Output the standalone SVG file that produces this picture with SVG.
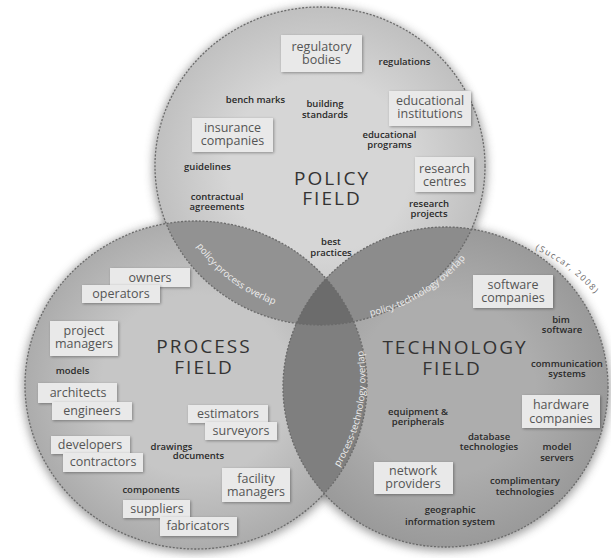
<svg xmlns="http://www.w3.org/2000/svg" width="611" height="558" viewBox="0 0 611 558">
<style>
.box{fill:#e9e9e9;filter:url(#bs)}
.bt{font-family:"Open Sans","Noto Sans",sans-serif;font-size:12.5px;fill:#555;text-anchor:middle}
.sl{font-family:"Open Sans","Noto Sans",sans-serif;font-size:9.5px;font-weight:600;fill:#2a2a2a;text-anchor:middle}
.ft{font-family:"Open Sans","Noto Sans",sans-serif;font-size:19px;fill:#333;text-anchor:middle;letter-spacing:2px}
.ov{font-family:"Open Sans","Noto Sans",sans-serif;font-size:9.5px;fill:#eeeeee;text-anchor:middle}
.edge{fill:none;stroke:#6a6a6a;stroke-width:1.3;stroke-dasharray:2 1.6}
.shd{fill:#5a5a5a;opacity:0.6;filter:url(#sh)}
</style>
<defs>
<ellipse id="eP" cx="320" cy="166" rx="165" ry="159"/>
<ellipse id="ePr" cx="196" cy="385" rx="171" ry="164"/>
<ellipse id="eT" cx="445.5" cy="387" rx="162.5" ry="160"/>
<clipPath id="cP"><use href="#eP"/></clipPath>
<clipPath id="cPr"><use href="#ePr"/></clipPath>
<radialGradient id="gP" cx="50%" cy="50%" r="50%"><stop offset="0.55" stop-color="#d6d6d6"/><stop offset="1" stop-color="#c0c0c0"/></radialGradient>
<radialGradient id="gPr" cx="50%" cy="50%" r="50%"><stop offset="0.55" stop-color="#c6c6c6"/><stop offset="1" stop-color="#acacac"/></radialGradient>
<radialGradient id="gT" cx="50%" cy="50%" r="50%"><stop offset="0.55" stop-color="#adadad"/><stop offset="1" stop-color="#9a9a9a"/></radialGradient>
<filter id="sh" x="-15%" y="-15%" width="130%" height="130%"><feGaussianBlur stdDeviation="5"/></filter>
<filter id="bs" x="-20%" y="-40%" width="140%" height="180%">
<feGaussianBlur in="SourceAlpha" stdDeviation="1.5"/><feOffset dx="1" dy="1"/>
<feComponentTransfer><feFuncA type="linear" slope="0.35"/></feComponentTransfer>
<feMerge><feMergeNode/><feMergeNode in="SourceGraphic"/></feMerge></filter>
<path id="pPP" d="M 190 236 A 160 160 0 0 0 286 308"/>
<path id="pPT" d="M 360 318 A 170 170 0 0 0 472 250"/>
<path id="pPrT" d="M 333 476 A 165 165 0 0 0 361 340"/>
<path id="pSuc" d="M 522 244 A 170 170 0 0 1 604 306"/>
</defs>
<rect width="611" height="558" fill="#ffffff"/>
<g id="shadows">
<ellipse class="shd" cx="320" cy="168" rx="167" ry="161"/>
<ellipse class="shd" cx="196" cy="387" rx="173" ry="166"/>
<ellipse class="shd" cx="445.5" cy="389" rx="164.5" ry="162"/>
</g>
<g id="policy-circle"><use href="#eP" fill="url(#gP)"/></g>
<g id="process-circle"><use href="#ePr" fill="url(#gPr)"/></g>
<g id="technology-circle"><use href="#eT" fill="url(#gT)"/></g>
<g id="overlaps">
<g clip-path="url(#cP)"><use href="#ePr" fill="#929292"/><use href="#eT" fill="#8c8c8c"/></g>
<g clip-path="url(#cPr)"><use href="#eT" fill="#7f7f7f"/></g>
<g clip-path="url(#cP)"><g clip-path="url(#cPr)"><use href="#eT" fill="#6c6c6c"/></g></g>
</g>
<g id="outlines">
<use href="#eP" class="edge"/>
<use href="#ePr" class="edge"/>
<use href="#eT" class="edge"/>
</g>
<g id="overlap-labels">
<text class="ov"><textPath href="#pPP" startOffset="50%">policy-process overlap</textPath></text>
<text class="ov"><textPath href="#pPT" startOffset="50%">policy-technology overlap</textPath></text>
<text class="ov"><textPath href="#pPrT" startOffset="50%">process-technology overlap</textPath></text>
</g>
<g id="source">
<text style="font-family:'Open Sans','Noto Sans',sans-serif;font-size:8.5px;fill:#666;letter-spacing:1.5px;text-anchor:middle"><textPath href="#pSuc" startOffset="50%">(Succar, 2008)</textPath></text>
</g>
<g id="titles">
<text class="ft" x="332" y="185">POLICY</text>
<text class="ft" x="332" y="205">FIELD</text>
<text class="ft" x="204" y="353">PROCESS</text>
<text class="ft" x="204" y="374">FIELD</text>
<text class="ft" x="455" y="354">TECHNOLOGY</text>
<text class="ft" x="452" y="375">FIELD</text>
</g>
<g id="policy-nodes">
<g id="regulatory-bodies"><rect class="box" x="281" y="35" width="81" height="37"/><text class="bt" x="321.5" y="51">regulatory</text><text class="bt" x="321.5" y="64">bodies</text></g>
<g id="educational-institutions"><rect class="box" x="389" y="91" width="82" height="35"/><text class="bt" x="430" y="105">educational</text><text class="bt" x="430" y="118">institutions</text></g>
<g id="insurance-companies"><rect class="box" x="192" y="118" width="81" height="34"/><text class="bt" x="232.5" y="132">insurance</text><text class="bt" x="232.5" y="145">companies</text></g>
<g id="research-centres"><rect class="box" x="415" y="157" width="59" height="35"/><text class="bt" x="444.5" y="173">research</text><text class="bt" x="444.5" y="186">centres</text></g>
</g>
<g id="process-nodes">
<g id="owners"><rect class="box" x="110" y="268" width="80" height="19"/><text class="bt" x="150" y="282">owners</text></g>
<g id="operators"><rect class="box" x="82" y="285" width="78" height="18"/><text class="bt" x="121" y="298">operators</text></g>
<g id="project-managers"><rect class="box" x="50" y="321" width="68" height="35"/><text class="bt" x="84" y="335">project</text><text class="bt" x="84" y="348">managers</text></g>
<g id="architects"><rect class="box" x="38" y="383" width="79" height="20"/><text class="bt" x="78" y="397">architects</text></g>
<g id="engineers"><rect class="box" x="52" y="402" width="80" height="18"/><text class="bt" x="92" y="415">engineers</text></g>
<g id="estimators"><rect class="box" x="188" y="405" width="80" height="18"/><text class="bt" x="228" y="418">estimators</text></g>
<g id="surveyors"><rect class="box" x="205" y="422" width="72" height="18"/><text class="bt" x="241" y="435">surveyors</text></g>
<g id="developers"><rect class="box" x="51" y="436" width="79" height="18"/><text class="bt" x="90" y="449">developers</text></g>
<g id="contractors"><rect class="box" x="63" y="453" width="80" height="19"/><text class="bt" x="103" y="466">contractors</text></g>
<g id="facility-managers"><rect class="box" x="222" y="468" width="68" height="34"/><text class="bt" x="256" y="483">facility</text><text class="bt" x="256" y="496">managers</text></g>
<g id="suppliers"><rect class="box" x="123" y="500" width="67" height="18"/><text class="bt" x="157" y="513">suppliers</text></g>
<g id="fabricators"><rect class="box" x="160" y="517" width="77" height="19"/><text class="bt" x="198" y="530">fabricators</text></g>
</g>
<g id="technology-nodes">
<g id="software-companies"><rect class="box" x="473" y="275" width="80" height="33"/><text class="bt" x="513" y="289">software</text><text class="bt" x="513" y="302">companies</text></g>
<g id="hardware-companies"><rect class="box" x="522" y="395" width="78" height="33"/><text class="bt" x="561" y="409">hardware</text><text class="bt" x="561" y="423">companies</text></g>
<g id="network-providers"><rect class="box" x="374" y="462" width="79" height="32"/><text class="bt" x="413" y="475">network</text><text class="bt" x="413" y="488">providers</text></g>
</g>
<g id="small-labels">
<text class="sl" x="404.5" y="65">regulations</text>
<text class="sl" x="255.5" y="103">bench marks</text>
<text class="sl" x="325" y="107">building</text><text class="sl" x="325" y="118">standards</text>
<text class="sl" x="389.5" y="138">educational</text><text class="sl" x="389.5" y="148">programs</text>
<text class="sl" x="207.5" y="170">guidelines</text>
<text class="sl" x="217" y="200">contractual</text><text class="sl" x="217" y="210">agreements</text>
<text class="sl" x="429" y="207">research</text><text class="sl" x="429" y="217">projects</text>
<text class="sl" x="331" y="245">best</text><text class="sl" x="331" y="256">practices</text>
<text class="sl" x="72.5" y="374">models</text>
<text class="sl" x="171.5" y="450">drawings</text><text class="sl" x="198.5" y="459">documents</text>
<text class="sl" x="151" y="493">components</text>
<text class="sl" x="561" y="323">bim</text><text class="sl" x="562" y="333">software</text>
<text class="sl" x="567" y="367">communication</text><text class="sl" x="567" y="377">systems</text>
<text class="sl" x="418" y="415">equipment &amp;</text><text class="sl" x="418" y="425">peripherals</text>
<text class="sl" x="489" y="440">database</text><text class="sl" x="489" y="450">technologies</text>
<text class="sl" x="557" y="450">model</text><text class="sl" x="557" y="461">servers</text>
<text class="sl" x="525" y="484">complimentary</text><text class="sl" x="525" y="495">technologies</text>
<text class="sl" x="450" y="513">geographic</text><text class="sl" x="450" y="525">information system</text>
</g>
</svg>
